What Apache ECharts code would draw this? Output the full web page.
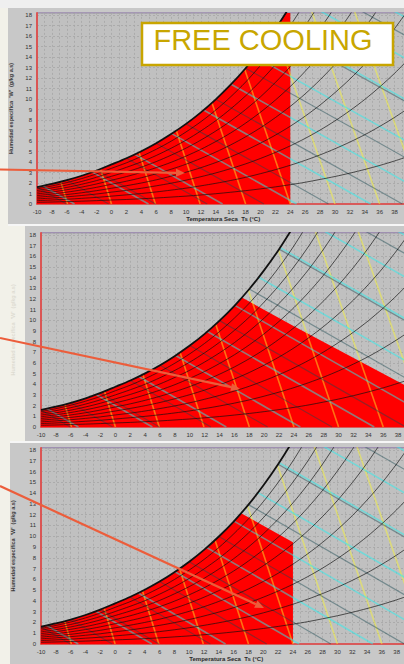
<!DOCTYPE html>
<html>
<head>
<meta charset="utf-8">
<script src="https://cdn.jsdelivr.net/npm/echarts@6.0.0/dist/echarts.min.js"></script>
<style>
  html, body { margin: 0; padding: 0; }
  body { width: 404px; height: 664px; overflow: hidden; background: #f2f1e9; position: relative; font-family: "Liberation Sans", Arial, sans-serif; }
  .blk { position: absolute; }
  #chart { position: absolute; left: 0; top: 0; width: 404px; height: 664px; }
</style>
</head>
<body>
<div class="blk" style="left:0;top:0;width:404px;height:8px;background:#efefef"></div>
<div class="blk" style="left:8px;top:8px;width:396px;height:216px;background:#c8c8c8"></div>
<div class="blk" style="left:8px;top:224px;width:396px;height:2px;background:#f6f6f6"></div>
<div class="blk" style="left:25px;top:226px;width:379px;height:215px;background:#c8c8c8"></div>
<div class="blk" style="left:10px;top:441px;width:394px;height:2px;background:#f6f6f6"></div>
<div class="blk" style="left:10px;top:443px;width:394px;height:221px;background:#c8c8c8"></div>
<div id="chart"></div>
<script>
// Dry-bulb temperature grid (°C) used by the relative humidity curves
const rhT = [-10,-8,-6,-4,-2,0,2,4,6,8,10,12,14,16,18,20,22,24,26,28,30,32,34,36,38,40];

// Saturation curve, humidity ratio W (g/kg dry air)
const satT = [-10,-8,-6,-4,-2,0,2,4,6,8,10,12,14,16,18,20,22,24,26,28];
const satW = [1.60,1.91,2.27,2.69,3.19,3.77,4.36,5.03,5.79,6.66,7.63,8.73,9.97,11.36,12.93,14.70,16.67,18.88,21.35,24.12];

// Relative humidity curves 10 % ... 90 % (W in g/kg, one value per rhT step)
const rh10 = [0.16,0.19,0.23,0.27,0.32,0.38,0.43,0.50,0.57,0.66,0.75,0.86,0.98,1.12,1.27,1.44,1.63,1.84,2.07,2.34,2.62,2.94,3.29,3.67,4.10,4.57];
const rh20 = [0.32,0.38,0.45,0.54,0.63,0.75,0.87,1.00,1.15,1.32,1.51,1.73,1.97,2.24,2.54,2.89,3.27,3.69,4.16,4.68,5.26,5.90,6.60,7.39,8.25,9.20];
const rh30 = [0.48,0.57,0.68,0.81,0.95,1.13,1.30,1.50,1.73,1.98,2.27,2.60,2.96,3.37,3.82,4.34,4.91,5.54,6.25,7.04,7.92,8.89,9.96,11.15,12.45,13.90];
const rh40 = [0.64,0.76,0.90,1.07,1.27,1.50,1.74,2.00,2.30,2.65,3.03,3.46,3.95,4.50,5.11,5.80,6.56,7.41,8.37,9.43,10.61,11.90,13.35,14.94,16.71,18.66];
const rh50 = [0.80,0.95,1.13,1.34,1.59,1.88,2.17,2.50,2.88,3.31,3.79,4.34,4.95,5.63,6.40,7.26,8.23,9.30,10.49,11.83,13.31,14.96,16.78,18.81,21.0];
const rh60 = [0.96,1.14,1.36,1.61,1.91,2.26,2.61,3.01,3.46,3.97,4.56,5.21,5.95,6.77,7.70,8.74,9.90,11.19,12.64,14.25,16.05,18.03,20.3];
const rh70 = [1.12,1.33,1.58,1.88,2.23,2.64,3.05,3.51,4.04,4.65,5.32,6.09,6.95,7.91,9.00,10.21,11.58,13.09,14.79,16.69,18.80,21.2];
const rh80 = [1.28,1.53,1.81,2.15,2.55,3.01,3.49,4.01,4.62,5.31,6.08,6.96,7.94,9.06,10.30,11.71,13.27,15.02,16.97,19.15];
const rh90 = [1.44,1.72,2.04,2.42,2.87,3.40,3.92,4.53,5.21,5.98,6.86,7.84,8.95,10.21,11.61,13.20,14.98,16.98,19.21];
const rhCurves = [rh10, rh20, rh30, rh40, rh50, rh60, rh70, rh80, rh90];

// Specific volume lines: foot on W = 0 and top on the saturation curve
const volBaseT = [-5.9,0,5.9,11.9,18,24,30,36,41.9];
const volTopT  = [-6.81,-1.47,3.69,8.70,13.48,17.87,21.92,25.6,29.0];
const volTopW  = [2.12,3.34,4.93,6.99,9.65,12.83,16.58,20.9,25.5];

// Enthalpy lines (5, 15, 25 ... kJ/kg)
const hBaseT = [-4.97,4.97,14.91,24.85,34.79,44.73,54.67,64.61,74.55,84.49,94.43];
const hTopT  = [-9.22,-2.59,3.12,8.08,12.35,16.05,19.26,22.13,24.67,26.96,29.05];
const hTopW  = [1.72,3.04,4.73,6.70,8.95,11.40,14.04,16.81,19.70,22.69,25.74];

// Wet-bulb lines
const wbBaseT = [-6.05,-0.38,5.92,12.85,20.46,29.12,39.04,50.57,64.12,80.1];
const wbTopT  = [-10,-6,-2,2,6,10,14,18,22,26];
const wbTopW  = [1.60,2.27,3.19,4.36,5.79,7.63,9.97,12.93,16.67,21.35];

// Free-cooling limit (straight edge leaving the saturation curve)
const coolT = [16,17,24,40];
const coolW = [11.36,12.13,9.45,3.5];

// Axis extents; the last labelled temperature
const xTicksMin = -10, xTicksMax = 40, yTicksMax = 18.2, xLastLabel = 38;

const chart = echarts.init(document.getElementById('chart'), null, { renderer: 'svg', width: 404, height: 664 });

const panels = [
  { left: 37, top: 12.9, width: 372.5, height: 191.1, fillTo: 24, cut: 0, yName: '#3a3a3a', xName: true },
  { left: 41, top: 232.8, width: 372, height: 194.2, fillTo: 16, cut: 4, yName: '#dedcd2', xName: false },
  { left: 41, top: 447.8, width: 370.5, height: 196.2, fillTo: 16, cut: 3, yName: '#3a3a3a', xName: true }
];

const grids = [], xAxes = [], yAxes = [], series = [];
const labelFont = 'Liberation Sans';

function seg(gi, data, color, width, z, smooth) {
  series.push({
    type: 'line', xAxisIndex: gi, yAxisIndex: gi, data: data, symbol: 'none',
    smooth: smooth ? 0.3 : false, silent: true, animation: false,
    lineStyle: { color: color, width: width }, z: z
  });
}

panels.forEach((p, gi) => {
  grids.push({ left: p.left, top: p.top, width: p.width, height: p.height, show: true,
    outerBoundsMode: 'none', containLabel: false,
    backgroundColor: '#c0c0c0', borderColor: '#8f7aa8', borderWidth: 1 });
  xAxes.push({
    gridIndex: gi, type: 'value', min: xTicksMin, max: xTicksMax, interval: 1,
    axisLine: { show: true, onZero: false, lineStyle: { color: '#e8433d', width: 1.6 } },
    axisTick: { show: false },
    axisLabel: { fontSize: 6, color: '#333', margin: 5, fontFamily: labelFont,
      formatter: v => (Math.round(v) === v && v % 2 === 0 && v <= xLastLabel) ? String(v) : '' },
    splitLine: { show: true, lineStyle: { color: '#a6a6a6', width: 0.8, type: [2, 2] } },
    name: p.xName ? 'Temperatura Seca  Ts (°C)' : '', nameLocation: 'middle', nameGap: 12,
    nameTextStyle: { fontSize: 6, fontWeight: 'bold', color: '#2a2a2a', fontFamily: labelFont }
  });
  yAxes.push({
    gridIndex: gi, type: 'value', min: 0, max: yTicksMax, interval: 1,
    axisLine: { show: true, onZero: false, lineStyle: { color: '#e8433d', width: 1.6 } },
    axisTick: { show: false },
    axisLabel: { fontSize: 6, color: '#333', margin: 5, fontFamily: labelFont,
      formatter: v => (Math.round(v) === v) ? String(v) : '' },
    splitLine: { show: true, lineStyle: { color: '#a6a6a6', width: 0.8, type: [2, 2] } },
    name: "Humedad específica  'W'  (g/kg a.s)", nameLocation: 'middle', nameGap: gi === 0 ? 23 : 25,
    nameRotate: 90,
    nameTextStyle: { fontSize: 5.5, fontWeight: 'bold', color: p.yName, fontFamily: labelFont }
  });

  // red free-cooling area under the saturation curve
  const sat = satT.map((t, i) => [t, satW[i]]);
  const under = sat.filter(d => d[0] <= p.fillTo);
  if (p.cut) under.push([coolT[1], coolW[1]]);
  series.push({
    type: 'line', xAxisIndex: gi, yAxisIndex: gi, data: under, symbol: 'none',
    smooth: 0.3, silent: true, animation: false,
    lineStyle: { width: 0 }, areaStyle: { color: '#ff0000', opacity: 1 }, z: 1
  });
  if (p.cut) {
    const edge = coolT.slice(0, p.cut).map((t, i) => [t, coolW[i]]);
    series.push({
      type: 'line', xAxisIndex: gi, yAxisIndex: gi, data: edge, symbol: 'none',
      silent: true, animation: false,
      lineStyle: { width: 0 }, areaStyle: { color: '#ff0000', opacity: 1 }, z: 1
    });
  }

  // specific volume lines
  volBaseT.forEach((t, i) => seg(gi, [[t, 0], [volTopT[i], volTopW[i]]], 'rgba(255,250,40,0.45)', 1.6, 3));
  // enthalpy lines
  hBaseT.forEach((t, i) => seg(gi, [[t, 0], [hTopT[i], hTopW[i]]], 'rgba(40,240,240,0.5)', 1.6, 3));
  // wet-bulb lines
  wbBaseT.forEach((t, i) => seg(gi, [[t, 0], [wbTopT[i], wbTopW[i]]], 'rgba(25,70,80,0.45)', 1.2, 3));
  // relative humidity curves
  rhCurves.forEach(arr => seg(gi, arr.map((w, i) => [rhT[i], w]), 'rgba(15,15,15,0.75)', 0.9, 4, true));
  // saturation curve
  seg(gi, sat, '#111', 1.8, 5, true);
});

// call-out arrows
const arrowColor = '#ec5d3b';
const arrows = [
  [0, 169.5, 185, 173],
  [0, 338, 240, 389],
  [0, 486, 264, 608]
];
const graphics = [];
arrows.forEach(a => {
  const [x1, y1, x2, y2] = a;
  const ang = Math.atan2(y2 - y1, x2 - x1);
  const L = 9, H = 4;
  const bx = x2 - L * Math.cos(ang), by = y2 - L * Math.sin(ang);
  graphics.push({ type: 'line', z: 100, silent: true,
    shape: { x1: x1, y1: y1, x2: bx, y2: by },
    style: { stroke: arrowColor, lineWidth: 2.2 } });
  graphics.push({ type: 'polygon', z: 100, silent: true,
    shape: { points: [[x2, y2],
      [bx - H * Math.sin(ang), by + H * Math.cos(ang)],
      [bx + H * Math.sin(ang), by - H * Math.cos(ang)]] },
    style: { fill: arrowColor } });
});
// title box
graphics.push({ type: 'rect', z: 100, silent: true,
  shape: { x: 142, y: 23, width: 251, height: 42 },
  style: { fill: '#ffffff', stroke: '#c8a500', lineWidth: 2.5 } });
graphics.push({ type: 'text', z: 101, silent: true, x: 263, y: 40,
  style: { text: 'FREE COOLING', fill: '#c8a600', fontSize: 29, fontFamily: 'Liberation Sans',
    align: 'center', verticalAlign: 'middle' } });

chart.setOption({
  animation: false,
  backgroundColor: 'transparent',
  grid: grids, xAxis: xAxes, yAxis: yAxes, series: series,
  graphic: graphics
});
</script>
</body>
</html>
